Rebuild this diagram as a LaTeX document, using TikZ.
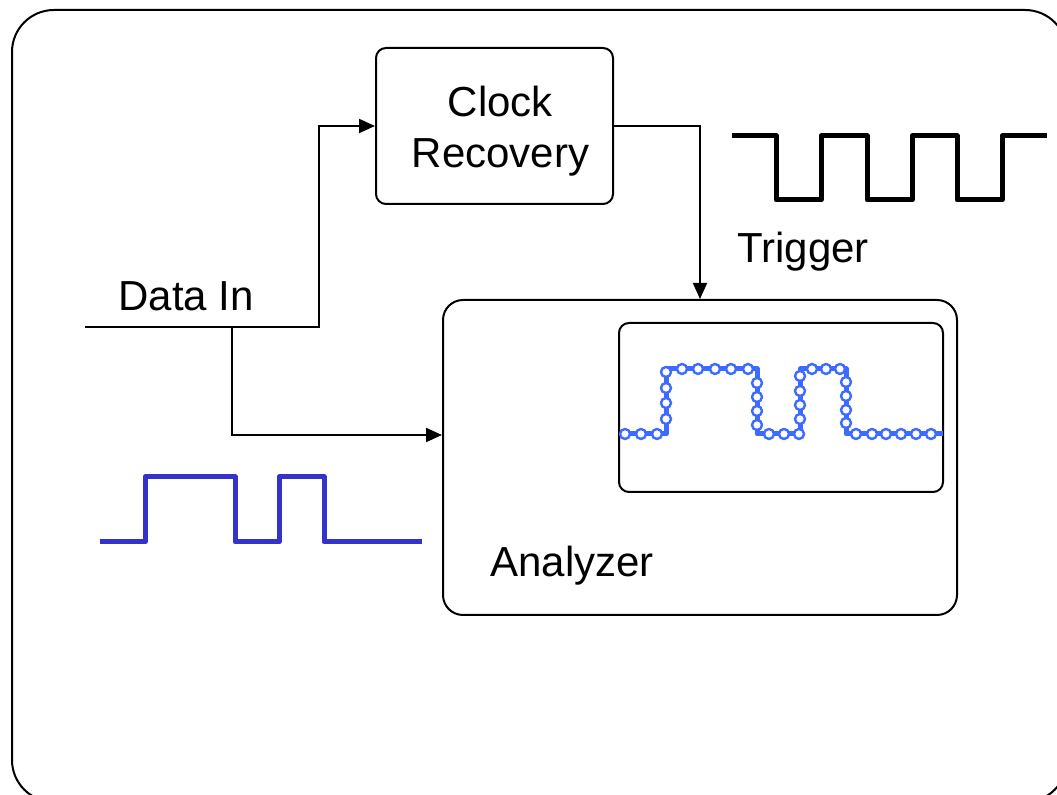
\documentclass[tikz,border=0pt]{standalone}
\usepackage{fontspec}
\setmainfont{Liberation Sans}
\usetikzlibrary{arrows.meta}
\definecolor{datablue}{HTML}{3333CC}
\definecolor{scopeblue}{HTML}{3D6BFF}
\tikzset{
  box/.style={
    shape=rectangle,
    draw,
    line width=1pt,
    inner sep=0pt,
  },
  lbl/.style={
    anchor=base west,
    inner sep=0pt,
    font=\fontsize{21}{25.5}\selectfont
  },
  arr/.style={
    line width=1pt,
    -{Triangle[length=8pt,width=7pt]}
  },
  wave/.style={
    line width=2.5pt, line join=round
  },
  sample/.style={
    draw=scopeblue, fill=white, line width=1.2pt
  }
}

\begin{document}
\begin{tikzpicture}[x=0.5pt,y=-0.5pt]
\useasboundingbox (0,0) rectangle (1057,795);

% Frame
\draw[line width=1pt, rounded corners=21pt] (12,10) rectangle (1067,802);

% Blocks
\node[box, rounded corners=5pt, minimum width=118.5pt, minimum height=78pt] (clk) at (494.5,126) {};
\node[box, rounded corners=10pt, minimum width=257pt, minimum height=157.5pt] (ana) at (700,457.5) {};
\node[box, rounded corners=5pt, minimum width=162pt, minimum height=84.5pt] (scr) at (781,407.5) {};

% Labels
\node[align=center, inner sep=0pt, font=\fontsize{21}{25.5}\selectfont] (clkText)
  at ([xshift=3pt,yshift=-2.5pt]clk.center) {Clock\\Recovery};
\node[lbl] (lblData) at (118,311) {Data In};
\node[lbl] (lblTrig) at (737,263) {Trigger};
\node[lbl] (lblAna) at (490,577) {Analyzer};

% Connections
\coordinate (din) at (85,327);
\coordinate (tap) at (232,327);
\draw[arr] (din) -| ([xshift=-28pt]clk.west) -- (clk.west);
\draw[arr] (tap) |- ([yshift=11.25pt]ana.west);
\draw[arr] (clk.east) -| (ana.north);

% Trigger clock
\draw[wave] (732,136) -- (776,136) -- (776,200) -- (821,200) -- (821,136)
  -- (867,136) -- (867,200) -- (912,200) -- (912,136) -- (957,136)
  -- (957,200) -- (1002,200) -- (1002,136) -- (1047,136);

% Data signal
\draw[wave, datablue] (100,542) -- (145,542) -- (145,477) -- (235,477)
  -- (235,542) -- (279,542) -- (279,477) -- (324,477) -- (324,542) -- (422,542);

% Sampled signal on screen
\draw[wave, scopeblue] (622,434) -- (666,434) -- (666,369) -- (757,369)
  -- (757,434) -- (800,434) -- (800,369) -- (846,369) -- (846,434) -- (943,434);
\foreach \x in {625,641,657,769,784,799,856,872,886,901,916,931}
  \draw[sample] (\x,434) circle[radius=2.5pt];
\foreach \x in {682,698,715,731,748,812,826,840}
  \draw[sample] (\x,369) circle[radius=2.5pt];
\foreach \y in {372,388,403,419}
  \draw[sample] (666,\y) circle[radius=2.5pt];
\foreach \y in {383,397,411,425}
  \draw[sample] (757,\y) circle[radius=2.5pt];
\foreach \y in {376,391,405,419}
  \draw[sample] (800,\y) circle[radius=2.5pt];
\foreach \y in {382,396,410,423}
  \draw[sample] (846,\y) circle[radius=2.5pt];

\end{tikzpicture}
\end{document}
